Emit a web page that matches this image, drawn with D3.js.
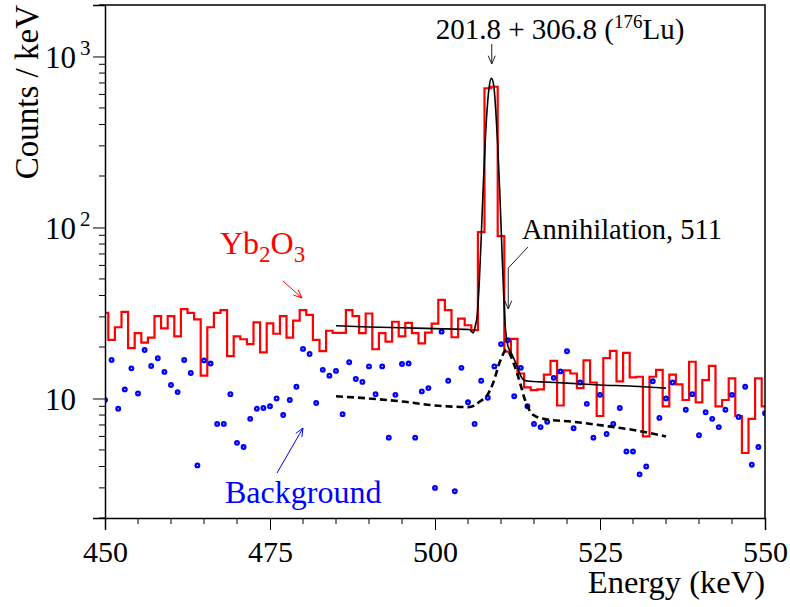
<!DOCTYPE html>
<html>
<head>
<meta charset="utf-8">
<script src="https://cdnjs.cloudflare.com/ajax/libs/d3/7.8.5/d3.min.js"></script>
<style>
  html, body { margin: 0; padding: 0; background: #ffffff; }
  svg { display: block; }
  text { font-family: "Liberation Serif", "Times New Roman", serif; }
</style>
</head>
<body>
<svg id="chart" width="790" height="607"></svg>
<script>
// ---------------- data ----------------
const xDomain = [450, 550];
const yDomain = [2, 2000];
const xTickValues = [450, 475, 500, 525, 550];
const yTickValues = [10, 100, 1000];
const yTickLabels = [["10", ""], ["10", "2"], ["10", "3"]];

// Yb2O3 histogram: counts/keV, 1 keV bins centred on 450 ... 550
const binCenters = d3.range(450, 551);
const yb2o3 = [
  31.7, 22.0, 26.1, 32.1, 19.7, 24.1, 21.2, 22.7, 30.3, 25.7,
  30.3, 23.1, 33.3, 31.7, 29.0, 13.6, 26.1, 31.7, 32.9, 17.7,
  23.1, 22.2, 20.8, 27.9, 18.6, 27.5, 23.9, 30.3, 22.7, 28.5,
  32.9, 30.8, 22.0, 18.9, 24.9, 24.2, 24.2, 32.9, 30.3, 24.1,
  31.4, 19.4, 24.1, 21.5, 28.1, 23.1, 27.7, 24.1, 21.0, 24.3,
  27.4, 37.7, 32.9, 22.8, 29.3, 26.8, 25.1, 94.0, 652, 665,
  89.0, 18.8, 22.3, 14.0, 11.6, 11.2, 11.3, 13.8, 16.6, 9.1,
  14.6, 14.0, 11.5, 16.7, 12.4, 7.9, 17.2, 19.0, 12.6, 18.5,
  13.3, 13.4, 6.0, 13.4, 14.7, 9.0, 13.8, 12.1, 9.8, 16.4,
  9.5, 12.8, 15.5, 9.0, 9.8, 13.1, 7.9, 4.8, 7.6, 13.1,
  9.0
];

// Background spectrum (points), same energies
const background = [
  9.8, 16.8, 8.7, 11.3, 15.0, 10.7, 19.2, 15.5, 17.2, 14.3,
  12.0, 10.9, 16.8, 14.1, 4.06, 16.7, 16.0, 7.1, 7.1, 10.6,
  5.5, 5.2, 7.6, 8.7, 8.8, 9.0, 10.0, 8.0, 9.8, 11.7,
  19.5, 18.2, 9.4, 14.7, 13.6, 14.5, 8.1, 16.3, 13.0, 12.5,
  15.4, 10.6, 15.4, 5.9, 10.5, 15.9, 16.0, 5.9, 11.0, 11.5,
  3.0, 24.6, 12.7, 2.87, 15.1, 9.5, 7.1, 12.7, 10.1, 15.4,
  20.8, 21.9, 10.3, 15.1, 9.0, 7.1, 6.8, 7.3, 13.2, 14.4,
  18.9, 6.7, 12.4, 9.3, 5.9, 10.5, 6.2, 7.1, 8.8, 4.9,
  4.9, 3.6, 4.0, 12.6, 7.7, 10.0, 12.4, null, 8.6, 10.6,
  6.1, 8.3, 7.6, 6.8, 8.6, 10.5, 7.8, 11.7, 4.1, 5.2,
  8.2
];

// Full fit curve (solid)
const fitE = [485, 490, 495, 500, 505.2, 505.8, 506.1, 506.4, 506.7, 507.0,
  507.3, 507.6, 507.9, 508.2, 508.55, 508.9, 509.2, 509.5, 509.8, 510.1,
  510.4, 510.7, 511.0, 511.6, 512.4, 512.9, 513.5, 514.4, 516, 520,
  525, 530, 535];
const fitV = [26.6, 26.2, 25.9, 25.6, 25.3, 24.2, 26.5, 31, 47, 87,
  171, 312, 493, 660, 745, 680, 488, 307, 166, 82,
  41, 25, 20.6, 18.3, 15.6, 13.8, 12.8, 12.6, 12.5, 12.3,
  12.0, 11.8, 11.5];

// Background fit curve (dashed)
const bgFitE = [485, 490, 495, 500, 503, 505, 506, 506.8, 507.8, 508.8,
  509.85, 510.85, 511.9, 512.9, 513.6, 514.9, 516.5, 521, 526, 530.5, 535];
const bgFitV = [10.3, 10.0, 9.6, 9.1, 8.95, 8.9, 9.1, 9.6, 10.3, 12.3,
  16.5, 19.2, 16.1, 12.3, 9.9, 8.0, 7.6, 7.3, 6.9, 6.5, 6.0];

// ---------------- drawing ----------------
const svg = d3.select("#chart");
const L = 105, R = 765, T = 5, B = 518;
const x = d3.scaleLinear().domain(xDomain).range([L, R]);
const y = d3.scaleLog().domain(yDomain).range([B, T]);

svg.append("defs").append("clipPath").attr("id", "clip")
  .append("rect").attr("x", L).attr("y", T).attr("width", R - L).attr("height", B - T);

const plot = svg.append("g").attr("clip-path", "url(#clip)");

// histogram outline
const half = 0.5;
let pts = [];
binCenters.forEach((c, i) => {
  const x0 = Math.max(xDomain[0], c - half), x1 = Math.min(xDomain[1], c + half);
  pts.push([x(x0), y(yb2o3[i])]);
  pts.push([x(x1), y(yb2o3[i])]);
});
plot.append("path")
  .attr("d", d3.line()(pts))
  .attr("fill", "none").attr("stroke", "#ff0000").attr("stroke-width", 2.2)
  .attr("stroke-linejoin", "miter");

// background points
plot.selectAll("circle.bg")
  .data(binCenters.map((c, i) => [c, background[i]]).filter(d => d[1] != null))
  .enter().append("circle")
  .attr("cx", d => x(d[0])).attr("cy", d => y(d[1]))
  .attr("r", 1.8).attr("fill", "#ffffff").attr("stroke", "#0000ff").attr("stroke-width", 2.3);

// fit curves
const line = d3.line().x(d => x(d[0])).y(d => y(d[1])).curve(d3.curveMonotoneX);
plot.append("path")
  .attr("d", line(bgFitE.map((e, i) => [e, bgFitV[i]])))
  .attr("fill", "none").attr("stroke", "#000").attr("stroke-width", 2.6)
  .attr("stroke-dasharray", "7,4");
plot.append("path")
  .attr("d", line(fitE.map((e, i) => [e, fitV[i]])))
  .attr("fill", "none").attr("stroke", "#000").attr("stroke-width", 1.6);

// axes
const xAxis = d3.axisBottom(x).tickValues(xTickValues).tickSize(12).tickFormat(d3.format("d"));
const gx = svg.append("g").attr("transform", `translate(0,${B})`).call(xAxis);
gx.selectAll("text").attr("font-size", 30).attr("dy", "0.95em").attr("font-family", "Liberation Serif");
const xMinor = d3.range(450, 551, 5).filter(v => v % 25 !== 0);
gx.selectAll("line.minor").data(xMinor).enter().append("line")
  .attr("x1", d => x(d)).attr("x2", d => x(d)).attr("y1", 0).attr("y2", 6).attr("stroke", "#000");

const yAxis = d3.axisLeft(y).tickValues(yTickValues).tickSize(12).tickFormat("");
const gy = svg.append("g").attr("transform", `translate(${L},0)`).call(yAxis);
const yMinor = [];
[1, 10, 100, 1000].forEach(dec => { for (let m = 2; m <= 9; m++) { const v = dec * m; if (v >= 2 && v <= 2000 && ![10,100,1000].includes(v)) yMinor.push(v); } });
yMinor.push(2000);
gy.selectAll("line.minor").data(yMinor).enter().append("line")
  .attr("x1", 0).attr("x2", -6).attr("y1", d => y(d)).attr("y2", d => y(d)).attr("stroke", "#000");
gx.select(".domain").attr("stroke-width", 1.5);
gy.select(".domain").attr("stroke-width", 1.5);

// y tick labels with superscript
yTickValues.forEach((v, i) => {
  svg.append("text").attr("x", 76).attr("y", y(v) + 12)
    .attr("text-anchor", "end").attr("font-size", 31).text(yTickLabels[i][0]);
  if (yTickLabels[i][1]) {
    svg.append("text").attr("x", 80).attr("y", y(v) - 1)
      .attr("font-size", 21).text(yTickLabels[i][1]);
  }
});

// frame top/right
svg.append("path").attr("d", `M${L},${T}H${R}V${B}`).attr("fill", "none").attr("stroke", "#000").attr("stroke-width", 1.5);

// axis titles
svg.append("text").attr("x", R).attr("y", 593).attr("text-anchor", "end")
  .attr("font-size", 32.5).text("Energy (keV)");
svg.append("text").attr("transform", `translate(38,${T}) rotate(-90)`).attr("text-anchor", "end")
  .attr("font-size", 33).text("Counts / keV");

// annotations
function arrow(points, color) {
  svg.append("path").attr("d", d3.line()(points)).attr("fill", "none").attr("stroke", color).attr("stroke-width", 1);
  const [xa, ya] = points[points.length - 2], [xb, yb] = points[points.length - 1];
  const ang = Math.atan2(yb - ya, xb - xa), h = 9, w = 0.4;
  svg.append("path").attr("d", d3.line()([
    [xb - h * Math.cos(ang - w), yb - h * Math.sin(ang - w)], [xb, yb],
    [xb - h * Math.cos(ang + w), yb - h * Math.sin(ang + w)]]))
    .attr("fill", "none").attr("stroke", color).attr("stroke-width", 1);
}

const title = svg.append("text").attr("x", 560).attr("y", 39).attr("text-anchor", "middle").attr("font-size", 29);
title.append("tspan").text("201.8 + 306.8 (");
title.append("tspan").attr("font-size", 19).attr("dy", -11).text("176");
title.append("tspan").attr("dy", 11).text("Lu)");
arrow([[x(508.6), 44], [x(508.6), 64]], "#222");

svg.append("text").attr("x", 522).attr("y", 239).attr("font-size", 28.5).text("Annihilation, 511");
arrow([[528, 247], [x(511.1), 268], [x(511.1), 309]], "#222");

const yb = svg.append("text").attr("x", 220).attr("y", 254).attr("font-size", 32).attr("fill", "#ff0000");
yb.append("tspan").text("Yb");
yb.append("tspan").attr("font-size", 23).attr("dy", 8).text("2");
yb.append("tspan").attr("dy", -8).text("O");
yb.append("tspan").attr("font-size", 23).attr("dy", 8).text("3");
arrow([[283, 281], [302, 298]], "#ff0000");

svg.append("text").attr("x", 225).attr("y", 503).attr("font-size", 32).attr("fill", "#0000ff").text("Background");
arrow([[277, 473], [303, 428]], "#0000ff");
</script>
</body>
</html>
